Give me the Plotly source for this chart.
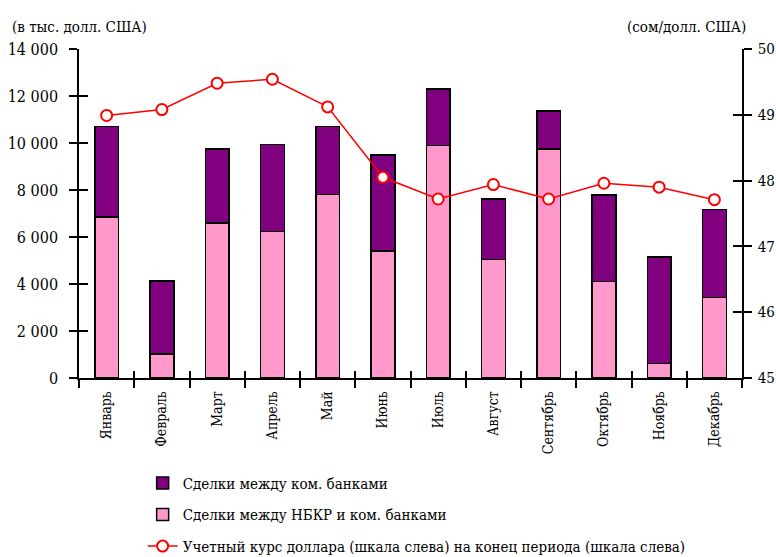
import plotly.graph_objects as go

months = ["Январь", "Февраль", "Март", "Апрель", "Май", "Июнь", "Июль",
          "Август", "Сентябрь", "Октябрь", "Ноябрь", "Декабрь"]
nbkr = [6850, 1020, 6600, 6240, 7800, 5400, 9900, 5050, 9750, 4110, 610, 3430]
total = [10700, 4120, 9750, 9930, 10700, 9500, 12300, 7620, 11370, 7790, 5140, 7180]
interbank = [t - n for t, n in zip(total, nbkr)]
rate = [48.99, 49.08, 49.48, 49.54, 49.12, 48.05, 47.72, 47.94, 47.72, 47.96, 47.90, 47.71]

left_ticks = [0, 2000, 4000, 6000, 8000, 10000, 12000, 14000]
left_labels = ["0", "2 000", "4 000", "6 000", "8 000", "10 000", "12 000", "14 000"]
right_ticks = [45, 46, 47, 48, 49, 50]

FONT = "DejaVu Serif Condensed, Liberation Serif, serif"

fig = go.Figure()
fig.add_trace(go.Bar(
    x=months, y=nbkr, name="Сделки между НБКР и ком. банками",
    marker=dict(color="#FF99CC", line=dict(color="black", width=1.5)),
    width=0.43, legendrank=2, legendgroup="b"))
fig.add_trace(go.Bar(
    x=months, y=interbank, name="Сделки между ком. банками",
    marker=dict(color="#800080", line=dict(color="black", width=1.5)),
    width=0.43, legendrank=1, legendgroup="a"))
fig.add_trace(go.Scatter(
    x=months, y=rate, yaxis="y2", mode="lines+markers",
    name="Учетный курс доллара (шкала слева) на конец периода (шкала слева)",
    line=dict(color="#FF0000", width=1.5),
    marker=dict(symbol="circle", size=11, color="white",
                line=dict(color="#FF0000", width=2)),
    legendrank=3, legendgroup="c"))

axis_common = dict(showgrid=False, zeroline=False, linecolor="black", linewidth=1.5,
                   tickcolor="black", tickwidth=1.5, automargin=False)

fig.update_layout(
    width=776, height=557,
    margin=dict(l=79, r=34, t=49, b=179, autoexpand=False),
    paper_bgcolor="white", plot_bgcolor="white",
    barmode="stack",
    font=dict(family=FONT, color="black", size=16),
    showlegend=True,
    legend=dict(x=0.096, y=-0.27, xanchor="left", yanchor="top",
                traceorder="grouped", tracegroupgap=9,
                font=dict(size=15, family=FONT), bgcolor="rgba(0,0,0,0)"),
    xaxis=dict(type="category", categoryorder="array", categoryarray=months,
               range=[-0.5, 11.5], tickson="boundaries", ticks="outside", ticklen=8,
               showline=True, tickangle=-90, tickfont=dict(size=14), ticklabelstandoff=6,
               **axis_common),
    xaxis2=dict(overlaying="x", range=[-0.5, 11.5], tickvals=[i - 0.5 for i in range(13)],
                ticks="inside", ticklen=7, showticklabels=False, showline=False,
                showgrid=False, zeroline=False, tickcolor="black", tickwidth=1.5,
                anchor="y", automargin=False),
    yaxis=dict(range=[0, 14000], tickvals=left_ticks, ticktext=left_labels,
               ticks="outside", ticklen=8, showline=True, tickfont=dict(size=16),
               ticklabelstandoff=8, **axis_common),
    yaxis3=dict(overlaying="y", range=[0, 14000], tickvals=left_ticks, ticks="inside",
                ticklen=9, showticklabels=False, showline=False, showgrid=False,
                zeroline=False, tickcolor="black", tickwidth=1.5, anchor="x",
                automargin=False),
    yaxis2=dict(overlaying="y", side="right", range=[45, 50], tickvals=right_ticks,
                ticks="outside", ticklen=8, showline=True, tickfont=dict(size=15),
                ticklabelstandoff=3, anchor="x", **axis_common),
    yaxis4=dict(overlaying="y", side="right", range=[45, 50], tickvals=right_ticks,
                ticks="inside", ticklen=9, showticklabels=False, showline=False,
                showgrid=False, zeroline=False, tickcolor="black", tickwidth=1.5,
                anchor="x", automargin=False),
    annotations=[
        dict(text="(в тыс. долл. США)", xref="paper", yref="paper", x=0, y=1.067,
             xanchor="center", yanchor="middle", showarrow=False, font=dict(size=15)),
        dict(text="(сом/долл. США)", xref="paper", yref="paper", x=1.009, y=1.067,
             xanchor="right", yanchor="middle", showarrow=False, font=dict(size=15)),
    ],
)
# invisible helper traces to activate the overlay tick axes
fig.add_trace(go.Scatter(x=[0], y=[0], xaxis="x2", yaxis="y3", mode="markers",
                         marker=dict(opacity=0), showlegend=False, hoverinfo="skip"))
fig.add_trace(go.Scatter(x=[0], y=[45], xaxis="x2", yaxis="y4", mode="markers",
                         marker=dict(opacity=0), showlegend=False, hoverinfo="skip"))

fig.write_html("out.html", config={"displayModeBar": False},
               post_script="document.body.style.margin='0';document.body.style.overflow='hidden';")
